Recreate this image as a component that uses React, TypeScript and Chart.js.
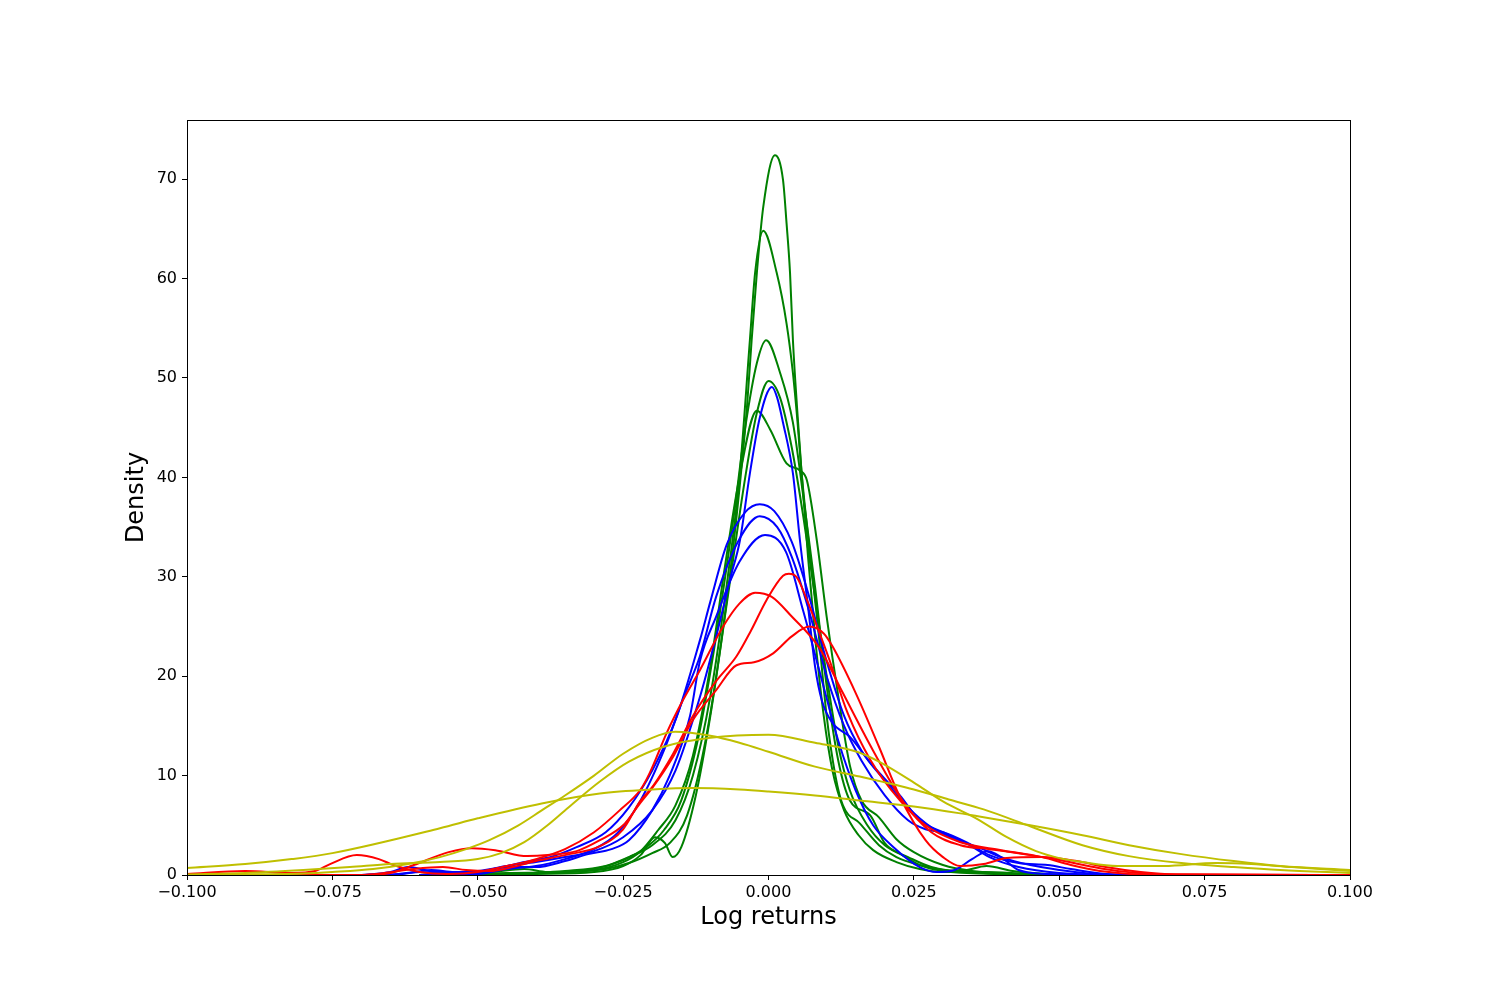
import React, { useEffect, useRef } from "react";
import { Chart, registerables } from "chart.js";
Chart.register(...registerables);

type Pt = [number, number];

// tick positions
const xTicks = [-0.1, -0.075, -0.05, -0.025, 0, 0.025, 0.05, 0.075, 0.1];
const yTicks = [0, 10, 20, 30, 40, 50, 60, 70];

// density curves: [log return, density]
const green1: Pt[] = [
  [-0.06, 0], [-0.045, 0.2], [-0.035, 0.3], [-0.028, 0.6], [-0.024, 1.2], [-0.02, 2.2],
  [-0.017, 3.2], [-0.014, 6], [-0.011, 13], [-0.008, 24], [-0.0055, 36], [-0.0037, 47.1],
  [-0.0029, 53.8], [-0.002, 60.6], [-0.0009, 67.2], [0.0011, 72.4], [0.0025, 69.9],
  [0.0031, 65.6], [0.0037, 60.6], [0.0042, 53.8], [0.0049, 47.1], [0.0057, 40.4],
  [0.0068, 32], [0.008, 24], [0.0095, 16], [0.011, 10.5], [0.013, 6.5], [0.0155, 4],
  [0.018, 2.5], [0.022, 1.3], [0.026, 0.6], [0.03, 0.3], [0.037, 0.3], [0.045, 0.1], [0.055, 0],
];
const green2: Pt[] = [
  [-0.06, 0], [-0.045, 0.1], [-0.035, 0.4], [-0.028, 0.9], [-0.024, 1.8], [-0.02, 3],
  [-0.016, 5.5], [-0.013, 10], [-0.01, 18], [-0.007, 30], [-0.005, 40], [-0.0032, 53.8],
  [-0.0023, 60.6], [-0.0009, 64.8], [0.0014, 60.6], [0.0031, 55.5], [0.0042, 50.5],
  [0.005, 45.5], [0.0057, 40.4], [0.007, 33], [0.0085, 25], [0.01, 16], [0.0115, 10],
  [0.0128, 7], [0.0157, 5.2], [0.019, 3], [0.022, 1.8], [0.026, 1.0], [0.03, 0.5],
  [0.037, 0.2], [0.045, 0],
];
const green3: Pt[] = [
  [-0.06, 0], [-0.04, 0.2], [-0.03, 0.6], [-0.025, 1.5], [-0.021, 2.8], [-0.018, 4.5],
  [-0.015, 7.5], [-0.012, 14], [-0.009, 24], [-0.006, 36], [-0.004, 45], [-0.002, 51.5],
  [-0.0004, 53.8], [0.002, 50.5], [0.0042, 45.5], [0.006, 38], [0.008, 29], [0.01, 19],
  [0.012, 11.5], [0.014, 7.5], [0.0175, 6.0], [0.02, 3.2], [0.023, 2.0], [0.026, 1.0],
  [0.03, 0.4], [0.04, 0.1], [0.05, 0],
];
const green4: Pt[] = [
  [-0.06, 0], [-0.04, 0.1], [-0.03, 0.3], [-0.025, 0.9], [-0.022, 2.0], [-0.0195, 3.8],
  [-0.0178, 3.2], [-0.0165, 1.8], [-0.015, 2.8], [-0.0125, 8], [-0.01, 16], [-0.007, 28],
  [-0.004, 40], [-0.002, 46.5], [0, 49.7], [0.002, 48], [0.004, 43], [0.006, 36],
  [0.008, 28], [0.01, 20], [0.012, 13], [0.014, 8.5], [0.017, 5], [0.02, 3.0],
  [0.024, 1.8], [0.028, 0.8], [0.033, 0.4], [0.0375, 0.9], [0.042, 0.4], [0.05, 0],
];
const green5: Pt[] = [
  [-0.06, 0], [-0.048, 0.3], [-0.042, 0.6], [-0.038, 0.3], [-0.03, 0.5], [-0.025, 1.3],
  [-0.022, 2.4], [-0.019, 4.5], [-0.016, 7], [-0.013, 12], [-0.01, 21], [-0.0075, 31],
  [-0.005, 40], [-0.002, 46.7], [0.0003, 44.8], [0.0031, 41.4], [0.0054, 40.7],
  [0.0066, 39.7], [0.0083, 33.7], [0.01, 26], [0.012, 18], [0.014, 11], [0.016, 7.5],
  [0.019, 5.8], [0.022, 3.6], [0.025, 2.3], [0.03, 1.0], [0.035, 0.4], [0.045, 0],
];

const blue1: Pt[] = [
  [-0.07, 0], [-0.063, 0.1], [-0.058, 0.5], [-0.054, 0.3], [-0.05, 0.4], [-0.045, 0.9],
  [-0.04, 1.3], [-0.035, 1.8], [-0.03, 2.4], [-0.025, 3.8], [-0.02, 6.5], [-0.016, 10.5],
  [-0.012, 17.5], [-0.009, 24], [-0.0065, 30], [-0.0049, 33.7], [-0.0032, 40.4],
  [-0.0015, 46], [0.0006, 49.1], [0.0015, 48], [0.0025, 45.5], [0.0042, 40.4],
  [0.0054, 33.7], [0.0068, 27], [0.008, 21], [0.0092, 17.5], [0.011, 15.3],
  [0.014, 13.9], [0.0175, 11.3], [0.0226, 8.0], [0.026, 5.5], [0.03, 4.3], [0.034, 3.2],
  [0.038, 1.8], [0.043, 0.8], [0.05, 0.2], [0.06, 0],
];
const blue2: Pt[] = [
  [-0.07, 0], [-0.065, 0.3], [-0.062, 0.8], [-0.058, 0.4], [-0.052, 0.2], [-0.047, 0.6],
  [-0.042, 1.3], [-0.037, 1.9], [-0.033, 2.8], [-0.028, 4.3], [-0.024, 6.8], [-0.02, 10.5],
  [-0.0158, 15.9], [-0.0118, 23.6], [-0.01, 27.5], [-0.0072, 33.2], [-0.004, 36.5],
  [-0.0015, 37.3], [0.001, 36.6], [0.004, 33.5], [0.007, 28], [0.01, 21.5], [0.013, 16],
  [0.016, 12.5], [0.02, 9.5], [0.024, 6.8], [0.028, 4.8], [0.032, 3.6], [0.036, 2.8],
  [0.04, 1.8], [0.045, 1.0], [0.05, 0.5], [0.055, 0.15], [0.06, 0],
];
const blue3: Pt[] = [
  [-0.06, 0], [-0.05, 0.1], [-0.045, 0.6], [-0.04, 0.9], [-0.035, 1.6], [-0.03, 2.6],
  [-0.026, 4.2], [-0.022, 7.5], [-0.018, 12.5], [-0.0145, 18], [-0.0118, 22], [-0.009, 28],
  [-0.005, 33.8], [-0.0015, 36.1], [0.0015, 35], [0.004, 32], [0.007, 26.5], [0.01, 20],
  [0.013, 15], [0.016, 11.5], [0.02, 8], [0.024, 5.5], [0.027, 4.6], [0.03, 4.3],
  [0.034, 3.3], [0.038, 2.0], [0.043, 1.2], [0.048, 1.0], [0.052, 0.6], [0.058, 0.1],
  [0.065, 0],
];
const blue4: Pt[] = [
  [-0.065, 0], [-0.06, 0.3], [-0.055, 0.2], [-0.05, 0.3], [-0.045, 0.8], [-0.04, 0.8],
  [-0.035, 1.4], [-0.031, 2.1], [-0.027, 2.6], [-0.024, 3.5], [-0.02, 6.5], [-0.017, 10],
  [-0.0135, 16], [-0.0118, 21.5], [-0.009, 26], [-0.005, 31.5], [-0.0006, 34.2],
  [0.003, 32.5], [0.006, 26.5], [0.009, 20], [0.012, 13.5], [0.015, 8.5], [0.018, 5],
  [0.0215, 2.8], [0.026, 0.8], [0.029, 0.3], [0.032, 0.5], [0.035, 1.6], [0.0378, 2.4],
  [0.04, 1.8], [0.043, 0.5], [0.048, 0.1], [0.055, 0],
];

const red1: Pt[] = [
  [-0.1, 0], [-0.07, 0], [-0.066, 0.2], [-0.061, 0.6], [-0.056, 0.8], [-0.052, 0.5],
  [-0.048, 0.4], [-0.044, 0.8], [-0.04, 1.4], [-0.035, 2.0], [-0.029, 2.9], [-0.025, 4.6],
  [-0.0221, 7.4], [-0.0198, 9.0], [-0.0164, 12.2], [-0.013, 16], [-0.009, 19.5],
  [-0.0055, 22.0], [-0.003, 24.6], [-0.0003, 27.7], [0.0025, 30.1], [0.0035, 30.3],
  [0.0048, 30.0], [0.0066, 27.7], [0.0088, 24.3], [0.0105, 21.6], [0.0136, 16.3],
  [0.0175, 11.6], [0.0226, 7.5], [0.027, 5.0], [0.033, 3.3], [0.04, 2.5], [0.047, 1.8],
  [0.052, 1.0], [0.057, 0.4], [0.065, 0.05], [0.1, 0],
];
const red2: Pt[] = [
  [-0.1, 0.1], [-0.09, 0.4], [-0.082, 0.2], [-0.078, 0.4], [-0.0754, 1.1], [-0.0708, 2.0],
  [-0.067, 1.6], [-0.0645, 1.0], [-0.06, 0.3], [-0.055, 0.1], [-0.05, 0.3], [-0.045, 0.9],
  [-0.04, 1.6], [-0.035, 2.6], [-0.03, 4.3], [-0.0256, 6.5], [-0.022, 8.6], [-0.0204, 10.3],
  [-0.0175, 14.3], [-0.0147, 17.6], [-0.0118, 20.6], [-0.0078, 25], [-0.005, 27.3],
  [-0.0023, 28.4], [0.0005, 28.0], [0.004, 26], [0.0088, 22.8], [0.0128, 18.3],
  [0.018, 12.5], [0.023, 7.5], [0.028, 4.3], [0.033, 3.0], [0.038, 2.6], [0.045, 2.0],
  [0.05, 1.5], [0.055, 0.9], [0.06, 0.4], [0.07, 0.05], [0.1, 0],
];
const red3: Pt[] = [
  [-0.1, 0], [-0.07, 0], [-0.065, 0.2], [-0.061, 1.0], [-0.055, 2.3], [-0.051, 2.7],
  [-0.047, 2.5], [-0.0415, 1.9], [-0.038, 2.0], [-0.033, 2.4], [-0.029, 3.5], [-0.025, 5.0],
  [-0.0221, 7.2], [-0.0198, 8.9], [-0.0164, 11.9], [-0.013, 15.6], [-0.009, 18.6],
  [-0.0055, 21.1], [-0.0025, 21.4], [0.0008, 22.3], [0.004, 24], [0.007, 25],
  [0.0095, 24.3], [0.011, 23], [0.015, 18.3], [0.019, 12.9], [0.0225, 8.0], [0.027, 3.5],
  [0.03, 1.8], [0.033, 0.9], [0.037, 1.1], [0.041, 1.7], [0.047, 1.8], [0.053, 1.4],
  [0.058, 0.8], [0.064, 0.3], [0.07, 0.05], [0.1, 0],
];

const yellow1: Pt[] = [
  [-0.1, 0.7], [-0.09, 1.1], [-0.082, 1.6], [-0.075, 2.2], [-0.0565, 4.7], [-0.05, 5.7],
  [-0.039, 7.2], [-0.029, 8.2], [-0.02, 8.6], [-0.013, 8.75], [-0.005, 8.6], [0, 8.4],
  [0.008, 8.0], [0.0157, 7.5], [0.025, 6.9], [0.033, 6.2], [0.036, 5.9], [0.045, 5.0],
  [0.054, 4.0], [0.062, 3.0], [0.071, 2.1], [0.08, 1.4], [0.088, 0.9], [0.1, 0.5],
];
const yellow2: Pt[] = [
  [-0.1, 0.05], [-0.09, 0.2], [-0.08, 0.5], [-0.072, 0.8], [-0.065, 1.1], [-0.0565, 1.3],
  [-0.05, 1.6], [-0.046, 2.2], [-0.042, 3.3], [-0.038, 5.0], [-0.034, 7.0], [-0.029, 9.4],
  [-0.024, 11.4], [-0.018, 12.9], [-0.01, 13.8], [0, 14.1], [0.008, 13.3], [0.0157, 12.3],
  [0.019, 11.4], [0.025, 9.3], [0.03, 7.4], [0.036, 5.6], [0.041, 3.8], [0.046, 2.4],
  [0.05, 1.7], [0.054, 1.3], [0.06, 0.9], [0.068, 0.9], [0.077, 1.2], [0.083, 1.1],
  [0.09, 0.8], [0.1, 0.4],
];
const yellow3: Pt[] = [
  [-0.1, 0], [-0.09, 0.05], [-0.08, 0.15], [-0.075, 0.3], [-0.068, 0.6], [-0.062, 1.1],
  [-0.0565, 1.8], [-0.052, 2.6], [-0.048, 3.5], [-0.043, 5.0], [-0.039, 6.5], [-0.035, 8.0],
  [-0.03, 10.0], [-0.025, 12.2], [-0.02, 13.8], [-0.016, 14.4], [-0.01, 14.0], [-0.005, 13.3],
  [0, 12.4], [0.008, 10.9], [0.0157, 9.9], [0.025, 8.6], [0.031, 7.6], [0.037, 6.6],
  [0.045, 4.9], [0.054, 3.0], [0.062, 1.9], [0.071, 1.2], [0.08, 0.8], [0.088, 0.5], [0.1, 0.2],
];

const groups: { color: string; curves: Pt[][] }[] = [
  { color: "#bfbf00", curves: [yellow1, yellow2, yellow3] },
  { color: "#ff0000", curves: [red1, red2, red3] },
  { color: "#0000ff", curves: [blue1, blue2, blue3, blue4] },
  { color: "#008000", curves: [green1, green2, green3, green4, green5] },
];

const fmtX = (v: number) => (v < 0 ? "\u2212" : "") + Math.abs(v).toFixed(3);

// draws the box round the plot like matplotlib spines
const frame = {
  id: "frame",
  afterDraw(chart: any) {
    const { ctx, chartArea: a } = chart;
    ctx.save();
    ctx.strokeStyle = "#000";
    ctx.lineWidth = 1;
    ctx.strokeRect(Math.round(a.left) + 0.5, Math.round(a.top) + 0.5, Math.round(a.right - a.left), Math.round(a.bottom - a.top));
    ctx.restore();
  },
};

const App: React.FC = () => {
  const canvasRef = useRef<HTMLCanvasElement>(null);

  useEffect(() => {
    if (!canvasRef.current) return;
    const datasets = groups.flatMap((g) =>
      g.curves.map((c) => ({
        data: c.map(([x, y]) => ({ x, y })),
        borderColor: g.color,
        borderWidth: 2,
        pointRadius: 0,
        fill: false,
        cubicInterpolationMode: "monotone" as const,
      }))
    );

    const font = { family: "DejaVu Sans", size: 16 };
    const chart = new Chart(canvasRef.current, {
      type: "line",
      data: { datasets },
      options: {
        animation: false,
        responsive: false,
        devicePixelRatio: 1,
        layout: { padding: { left: 110, right: 150, top: 120, bottom: 60 } },
        plugins: { legend: { display: false }, tooltip: { enabled: false } },
        scales: {
          x: {
            type: "linear",
            min: -0.1,
            max: 0.1,
            afterBuildTicks: (s: any) => {
              s.ticks = xTicks.map((value) => ({ value }));
            },
            afterFit: (s: any) => {
              s.height = 65;
            },
            ticks: { color: "#000", font, padding: 3, maxRotation: 0, autoSkip: false, callback: (v: any) => fmtX(Number(v)) },
            grid: { display: true, drawOnChartArea: false, drawTicks: true, tickLength: 5, tickColor: "#000" },
            border: { display: true, color: "#000", width: 1 },
            title: { display: true, text: "Log returns", color: "#000", font: { family: "DejaVu Sans", size: 24 }, padding: { top: 0, bottom: 8 } },
          },
          y: {
            type: "linear",
            min: 0,
            max: 75.95,
            afterBuildTicks: (s: any) => {
              s.ticks = yTicks.map((value) => ({ value }));
            },
            afterFit: (s: any) => {
              s.width = 77;
            },
            ticks: { color: "#000", font, padding: 5, callback: (v: any) => String(v) },
            grid: { display: true, drawOnChartArea: false, drawTicks: true, tickLength: 5, tickColor: "#000" },
            border: { display: true, color: "#000", width: 1 },
            title: { display: true, text: "Density", color: "#000", font: { family: "DejaVu Sans", size: 24 }, padding: { top: 12, bottom: 0 } },
          },
        },
      },
      plugins: [frame],
    });

    return () => {
      chart.destroy();
    };
  }, []);

  return (
    <div style={{ position: "absolute", left: 0, top: 0, width: 1500, height: 1000, background: "#fff" }}>
      <canvas ref={canvasRef} width={1500} height={1000}></canvas>
    </div>
  );
};

export default App;
